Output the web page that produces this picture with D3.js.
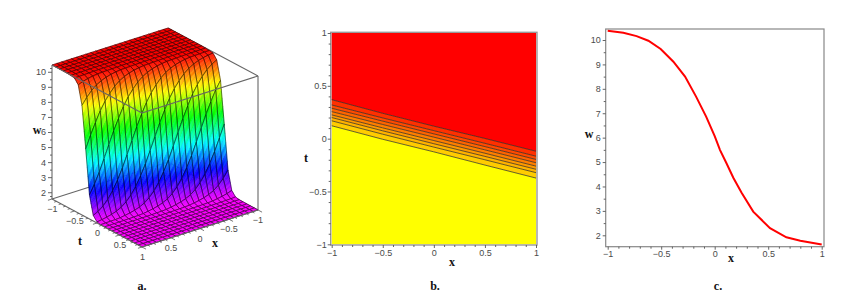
<!DOCTYPE html>
<html>
<head>
<meta charset="utf-8">
<script src="https://d3js.org/d3.v7.min.js"></script>
<style>
  html, body { margin: 0; background: #fff; }
  svg { display: block; }
  .tick-label { font-family: "Liberation Sans", sans-serif; font-size: 9px; fill: #4a4a4a; }
  .axis-name { font-family: "Liberation Serif", serif; font-size: 12px; font-weight: bold; fill: #111; text-anchor: middle; }
</style>
</head>
<body>
<svg id="chart" width="866" height="302"></svg>
<script>
// panel a: surface w(x, t)
const gridX = [-1, -0.917, -0.833, -0.75, -0.667, -0.583, -0.5, -0.417, -0.333, -0.25, -0.167, -0.083, 0, 0.083, 0.167, 0.25, 0.333, 0.417, 0.5, 0.583, 0.667, 0.75, 0.833, 0.917, 1];
const gridT = [-1, -0.917, -0.833, -0.75, -0.667, -0.583, -0.5, -0.417, -0.333, -0.25, -0.167, -0.083, 0, 0.083, 0.167, 0.25, 0.333, 0.417, 0.5, 0.583, 0.667, 0.75, 0.833, 0.917, 1];
const surfaceW = [
  [10.45,10.45,10.45,10.45,10.45,10.45,10.45,10.45,10.45,10.45,10.45,10.45,10.45,10.45,10.45,10.45,10.45,10.45,10.45,10.45,10.45,10.45,10.45,10.45,10.45],
  [10.45,10.45,10.45,10.45,10.45,10.45,10.45,10.45,10.45,10.45,10.45,10.45,10.45,10.45,10.45,10.45,10.45,10.45,10.45,10.45,10.45,10.45,10.45,10.45,10.45],
  [10.45,10.45,10.45,10.45,10.45,10.45,10.45,10.45,10.45,10.45,10.45,10.45,10.45,10.45,10.45,10.45,10.45,10.45,10.45,10.45,10.45,10.45,10.45,10.45,10.45],
  [10.45,10.45,10.45,10.45,10.45,10.45,10.45,10.45,10.45,10.45,10.45,10.45,10.45,10.45,10.45,10.45,10.45,10.45,10.45,10.45,10.45,10.45,10.45,10.45,10.45],
  [10.45,10.45,10.45,10.45,10.45,10.45,10.45,10.45,10.45,10.45,10.45,10.45,10.45,10.45,10.45,10.45,10.45,10.45,10.45,10.45,10.45,10.45,10.45,10.45,10.44],
  [10.45,10.45,10.45,10.45,10.45,10.45,10.45,10.45,10.45,10.45,10.45,10.45,10.45,10.45,10.45,10.45,10.45,10.45,10.45,10.45,10.44,10.44,10.43,10.43,10.42],
  [10.45,10.45,10.45,10.45,10.45,10.45,10.45,10.45,10.45,10.45,10.45,10.45,10.45,10.45,10.45,10.45,10.44,10.44,10.43,10.43,10.42,10.41,10.40,10.39,10.38],
  [10.45,10.45,10.45,10.45,10.45,10.45,10.45,10.45,10.45,10.45,10.45,10.45,10.44,10.44,10.43,10.43,10.42,10.41,10.40,10.39,10.38,10.34,10.28,10.19,10.06],
  [10.45,10.45,10.45,10.45,10.45,10.45,10.45,10.45,10.44,10.44,10.43,10.43,10.42,10.41,10.40,10.39,10.38,10.34,10.28,10.19,10.06,9.88,9.62,9.26,8.83],
  [10.45,10.45,10.45,10.45,10.44,10.44,10.43,10.43,10.42,10.41,10.40,10.39,10.38,10.34,10.28,10.19,10.06,9.88,9.62,9.26,8.83,8.30,7.62,6.88,6.06],
  [10.44,10.44,10.43,10.43,10.42,10.41,10.40,10.39,10.38,10.34,10.28,10.19,10.06,9.88,9.62,9.26,8.83,8.30,7.62,6.88,6.06,5.24,4.44,3.75,3.14],
  [10.42,10.41,10.40,10.39,10.38,10.34,10.28,10.19,10.06,9.88,9.62,9.26,8.83,8.30,7.62,6.88,6.06,5.24,4.44,3.75,3.14,2.68,2.33,2.08,1.92],
  [10.38,10.34,10.28,10.19,10.06,9.88,9.62,9.26,8.83,8.30,7.62,6.88,6.06,5.24,4.44,3.75,3.14,2.68,2.33,2.08,1.92,1.81,1.73,1.67,1.62],
  [10.06,9.88,9.62,9.26,8.83,8.30,7.62,6.88,6.06,5.24,4.44,3.75,3.14,2.68,2.33,2.08,1.92,1.81,1.73,1.67,1.62,1.60,1.59,1.58,1.57],
  [8.83,8.30,7.62,6.88,6.06,5.24,4.44,3.75,3.14,2.68,2.33,2.08,1.92,1.81,1.73,1.67,1.62,1.60,1.59,1.58,1.57,1.57,1.56,1.56,1.56],
  [6.06,5.24,4.44,3.75,3.14,2.68,2.33,2.08,1.92,1.81,1.73,1.67,1.62,1.60,1.59,1.58,1.57,1.57,1.56,1.56,1.56,1.55,1.55,1.55,1.55],
  [3.14,2.68,2.33,2.08,1.92,1.81,1.73,1.67,1.62,1.60,1.59,1.58,1.57,1.57,1.56,1.56,1.56,1.55,1.55,1.55,1.55,1.55,1.55,1.55,1.55],
  [1.92,1.81,1.73,1.67,1.62,1.60,1.59,1.58,1.57,1.57,1.56,1.56,1.56,1.55,1.55,1.55,1.55,1.55,1.55,1.55,1.55,1.55,1.55,1.55,1.55],
  [1.62,1.60,1.59,1.58,1.57,1.57,1.56,1.56,1.56,1.55,1.55,1.55,1.55,1.55,1.55,1.55,1.55,1.55,1.55,1.55,1.55,1.55,1.55,1.55,1.55],
  [1.57,1.57,1.56,1.56,1.56,1.55,1.55,1.55,1.55,1.55,1.55,1.55,1.55,1.55,1.55,1.55,1.55,1.55,1.55,1.55,1.55,1.55,1.55,1.55,1.55],
  [1.56,1.55,1.55,1.55,1.55,1.55,1.55,1.55,1.55,1.55,1.55,1.55,1.55,1.55,1.55,1.55,1.55,1.55,1.55,1.55,1.55,1.55,1.55,1.55,1.55],
  [1.55,1.55,1.55,1.55,1.55,1.55,1.55,1.55,1.55,1.55,1.55,1.55,1.55,1.55,1.55,1.55,1.55,1.55,1.55,1.55,1.55,1.55,1.55,1.55,1.55],
  [1.55,1.55,1.55,1.55,1.55,1.55,1.55,1.55,1.55,1.55,1.55,1.55,1.55,1.55,1.55,1.55,1.55,1.55,1.55,1.55,1.55,1.55,1.55,1.55,1.55],
  [1.55,1.55,1.55,1.55,1.55,1.55,1.55,1.55,1.55,1.55,1.55,1.55,1.55,1.55,1.55,1.55,1.55,1.55,1.55,1.55,1.55,1.55,1.55,1.55,1.55],
  [1.55,1.55,1.55,1.55,1.55,1.55,1.55,1.55,1.55,1.55,1.55,1.55,1.55,1.55,1.55,1.55,1.55,1.55,1.55,1.55,1.55,1.55,1.55,1.55,1.55]
];
const wTicks = [2, 3, 4, 5, 6, 7, 8, 9, 10];
const wMinorTicks = [1.75, 2.5, 3.5, 4.5, 5.5, 6.5, 7.5, 8.5, 9.5, 10.25];
const floorTicks = [-1, -0.5, 0, 0.5, 1];
const floorMinorTicks = [-0.9, -0.8, -0.7, -0.6, -0.4, -0.3, -0.2, -0.1, 0.1, 0.2, 0.3, 0.4, 0.6, 0.7, 0.8, 0.9];

// panel b: contour lines t(x), top to bottom, and the band colours above each of them
const contourX = [-1, -0.5, 0, 0.5, 1];
const contourT = [
  [0.369, 0.240, 0.118, 0.002, -0.119],
  [0.319, 0.196, 0.076, -0.044, -0.166],
  [0.288, 0.166, 0.045, -0.075, -0.197],
  [0.256, 0.134, 0.014, -0.106, -0.228],
  [0.225, 0.102, -0.018, -0.138, -0.260],
  [0.200, 0.074, -0.048, -0.168, -0.290],
  [0.169, 0.042, -0.080, -0.200, -0.322],
  [0.122, -0.006, -0.125, -0.250, -0.373]
];
const bandColors = ["#ff0000", "#ff3000", "#ff4a00", "#ff6400", "#ff7e00", "#ff9800", "#ffb200", "#ffcc00"];
const planeTicks = [-1, -0.5, 0, 0.5, 1];
const planeMinorTicks = [-0.9, -0.8, -0.7, -0.6, -0.4, -0.3, -0.2, -0.1, 0.1, 0.2, 0.3, 0.4, 0.6, 0.7, 0.8, 0.9];

// panel c: profile w(x)
const profileX = [-1, -0.854, -0.73, -0.62, -0.505, -0.386, -0.277, -0.174, -0.08, 0, 0.05, 0.11, 0.174, 0.25, 0.36, 0.517, 0.67, 0.8, 1];
const profileW = [10.38, 10.30, 10.16, 9.97, 9.63, 9.11, 8.50, 7.68, 6.86, 6.06, 5.49, 4.95, 4.36, 3.75, 2.97, 2.29, 1.92, 1.78, 1.62];
const profileTicks = [2, 3, 4, 5, 6, 7, 8, 9, 10];
const profileMinorTicks = [2.5, 3.5, 4.5, 5.5, 6.5, 7.5, 8.5, 9.5];

const svg = d3.select("#chart");
const signed = (d) => (d === 0 ? "0" : d3.format("~g")(d));

function styleAxis(g, showText) {
  g.select(".domain").remove();
  g.selectAll("line").attr("stroke", "#555").attr("stroke-width", 0.9);
  g.selectAll("text").attr("class", "tick-label").attr("fill", null).attr("font-size", null).attr("font-family", null);
  if (!showText) g.selectAll("text").remove();
}

function axisName(text, x, y) {
  svg.append("text").attr("class", "axis-name").attr("x", x).attr("y", y).text(text);
}

/* ---- a. surface ---- */
function drawSurface() {
  const g = svg.append("g");
  // the box is a parallelogram, one scale per screen direction
  const xAlongX = d3.scaleLinear().domain([1, -1]).range([0, 116]);
  const xAlongY = d3.scaleLinear().domain([1, -1]).range([0, -37]);
  const tAlongX = d3.scaleLinear().domain([1, -1]).range([0, -90]);
  const tAlongY = d3.scaleLinear().domain([1, -1]).range([0, -48]);
  const wAlongY = d3.scaleLinear().domain([1.55, 10.45]).range([0, -134]);
  const front = [142, 247];
  const project = (x, t, w) => [
    front[0] + xAlongX(x) + tAlongX(t),
    front[1] + xAlongY(x) + tAlongY(t) + wAlongY(w)
  ];
  const hue = d3.scaleLinear().domain([10.45, 1.55]).range([0, 300]);
  const color = (w) => d3.hsl(hue(w), 1, 0.5).formatHex();
  const edge = (a, b) => g.append("line")
    .attr("x1", a[0]).attr("y1", a[1]).attr("x2", b[0]).attr("y2", b[1])
    .attr("stroke", "#666").attr("stroke-width", 1.1);

  const wLo = 1.55, wHi = 10.45;
  // back edges go under the surface
  edge(project(-1, -1, wHi), project(-1, 1, wHi));
  edge(project(1, -1, wLo), project(1, -1, wHi));
  edge(project(-1, 1, wLo), project(-1, 1, wHi));
  edge(project(1, -1, wLo), project(-1, -1, wLo));
  edge(project(-1, -1, wLo), project(-1, 1, wLo));

  const steps = 5;
  const line = d3.line();
  gridT.slice(0, -1).forEach((t0, j) => {
    gridX.slice(0, -1).forEach((x0, i) => {
      const x1 = gridX[i + 1], t1 = gridT[j + 1];
      const w00 = surfaceW[j][i], w10 = surfaceW[j][i + 1], w01 = surfaceW[j + 1][i], w11 = surfaceW[j + 1][i + 1];
      const flat = Math.max(w00, w10, w01, w11) - Math.min(w00, w10, w01, w11) < 0.05;
      const n = flat ? 1 : steps;
      const at = (u, v) => {
        const wu0 = w00 + (w10 - w00) * u, wu1 = w01 + (w11 - w01) * u;
        return [x0 + (x1 - x0) * u, t0 + (t1 - t0) * v, wu0 + (wu1 - wu0) * v];
      };
      for (let a = 0; a < n; a++) {
        for (let b = 0; b < n; b++) {
          const c = [at(a / n, b / n), at((a + 1) / n, b / n), at((a + 1) / n, (b + 1) / n), at(a / n, (b + 1) / n)];
          const fill = color(d3.mean(c, (p) => p[2]));
          g.append("path")
            .attr("d", line(c.map((p) => project(p[0], p[1], p[2]))) + "Z")
            .attr("fill", fill).attr("stroke", fill).attr("stroke-width", 0.4);
        }
      }
      g.append("path")
        .attr("d", line([[x0, t0, w00], [x1, t0, w10], [x1, t1, w11], [x0, t1, w01]].map((p) => project(p[0], p[1], p[2]))) + "Z")
        .attr("fill", "none").attr("stroke", "#000").attr("stroke-width", 0.6).attr("stroke-opacity", 0.85);
    });
  });

  // front edges sit on top of it
  edge(project(1, 1, wHi), project(1, -1, wHi));
  edge(project(1, 1, wHi), project(-1, 1, wHi));
  edge(project(1, 1, wLo), project(1, -1, wLo));
  edge(project(1, 1, wLo), project(-1, 1, wLo));

  // w axis on the left upright
  const wY = d3.scaleLinear().domain([wLo, wHi]).range([199, 65]);
  g.append("g").attr("transform", "translate(52,0)")
    .call(d3.axisLeft(wY).tickValues(wTicks).tickSize(4).tickPadding(2))
    .call((s) => styleAxis(s, true));
  g.append("g").attr("transform", "translate(52,0)")
    .call(d3.axisLeft(wY).tickValues(wMinorTicks).tickSize(2))
    .call((s) => styleAxis(s, false));

  // floor ticks, pushed outwards along the other floor direction
  const tick = (a, b) => g.append("line")
    .attr("x1", a[0]).attr("y1", a[1]).attr("x2", b[0]).attr("y2", b[1])
    .attr("stroke", "#555").attr("stroke-width", 0.8);
  floorTicks.forEach((d) => {
    tick(project(1, d, wLo), project(1.07, d, wLo));
    tick(project(d, 1, wLo), project(d, 1.09, wLo));
  });
  floorMinorTicks.forEach((d) => {
    tick(project(1, d, wLo), project(1.04, d, wLo));
    tick(project(d, 1, wLo), project(d, 1.05, wLo));
  });
  const floorLabel = (d, p) => g.append("text").attr("class", "tick-label")
    .attr("x", p[0]).attr("y", p[1]).attr("text-anchor", "middle").text(signed(d));
  floorTicks.forEach((d) => floorLabel(d, [project(1, d, wLo)[0] + 0.5, project(1, d, wLo)[1] + 13]));
  floorTicks.filter((d) => d < 1).forEach((d) => floorLabel(d, [project(d, 1, wLo)[0], project(d, 1, wLo)[1] + 13]));

  axisName("w", 37, 134);
  axisName("t", 80, 245);
  axisName("x", 215, 247);
  axisName("a.", 142, 290);
}

/* ---- b. contour plot ---- */
function drawContour() {
  const g = svg.append("g");
  const x = d3.scaleLinear().domain([-1, 1]).range([331.7, 536]);
  const y = d3.scaleLinear().domain([-1, 1]).range([244.3, 33]);
  const rows = contourX.map((d, i) => ({ x: d, t: contourT.map((c) => c[i]) }));

  bandColors.forEach((c, k) => {
    const upper = (r) => (k === 0 ? 1 : r.t[k - 1]);
    g.append("path").datum(rows)
      .attr("fill", c).attr("stroke", c).attr("stroke-width", 0.3)
      .attr("d", d3.area().x((r) => x(r.x)).y0((r) => y(r.t[k])).y1((r) => y(upper(r))));
  });
  g.append("path").datum(rows).attr("fill", "#ffff00")
    .attr("d", d3.area().x((r) => x(r.x)).y0(y(-1)).y1((r) => y(r.t[contourT.length - 1])));
  contourT.forEach((c) => {
    g.append("path").datum(c)
      .attr("fill", "none").attr("stroke", "#222").attr("stroke-width", 0.7)
      .attr("d", d3.line().x((d, i) => x(contourX[i])).y((d) => y(d)));
  });

  g.append("rect").attr("x", 330.7).attr("y", 32.3).attr("width", 206.3).attr("height", 212.7)
    .attr("fill", "none").attr("stroke", "#999").attr("stroke-width", 1.4);

  g.append("g").attr("transform", "translate(330.7,0)")
    .call(d3.axisLeft(y).tickValues(planeTicks).tickSize(3).tickPadding(1).tickFormat(signed))
    .call((s) => styleAxis(s, true));
  g.append("g").attr("transform", "translate(330.7,0)")
    .call(d3.axisLeft(y).tickValues(planeMinorTicks).tickSize(2))
    .call((s) => styleAxis(s, false));
  g.append("g").attr("transform", "translate(0,245)")
    .call(d3.axisBottom(x).tickValues(planeTicks).tickSize(3).tickPadding(2).tickFormat(signed))
    .call((s) => styleAxis(s, true));
  g.append("g").attr("transform", "translate(0,245)")
    .call(d3.axisBottom(x).tickValues(planeMinorTicks).tickSize(2))
    .call((s) => styleAxis(s, false));

  axisName("x", 452, 266);
  axisName("t", 306, 162);
  axisName("b.", 435, 290);
}

/* ---- c. profile ---- */
function drawProfile() {
  const g = svg.append("g");
  const x = d3.scaleLinear().domain([-1, 1]).range([607.7, 821.7]);
  const y = d3.scaleLinear().domain([2, 10]).range([235.3, 40]);

  g.append("rect").attr("x", 605.7).attr("y", 29).attr("width", 218.3).attr("height", 217.7)
    .attr("fill", "none").attr("stroke", "#888").attr("stroke-width", 1.2);

  g.append("path").datum(profileX)
    .attr("fill", "none").attr("stroke", "#f00").attr("stroke-width", 2)
    .attr("d", d3.line().x((d) => x(d)).y((d, i) => y(profileW[i])));

  g.append("g").attr("transform", "translate(605.7,0)")
    .call(d3.axisLeft(y).tickValues(profileTicks).tickSize(3).tickPadding(2))
    .call((s) => styleAxis(s, true));
  g.append("g").attr("transform", "translate(605.7,0)")
    .call(d3.axisLeft(y).tickValues(profileMinorTicks).tickSize(2))
    .call((s) => styleAxis(s, false));
  g.append("g").attr("transform", "translate(0,246.7)")
    .call(d3.axisBottom(x).tickValues(planeTicks).tickSize(3).tickPadding(1).tickFormat(signed))
    .call((s) => styleAxis(s, true));
  g.append("g").attr("transform", "translate(0,246.7)")
    .call(d3.axisBottom(x).tickValues(planeMinorTicks).tickSize(2))
    .call((s) => styleAxis(s, false));

  axisName("x", 731, 262);
  axisName("w", 589, 138);
  axisName("c.", 718, 290);
}

drawSurface();
drawContour();
drawProfile();
</script>
</body>
</html>
